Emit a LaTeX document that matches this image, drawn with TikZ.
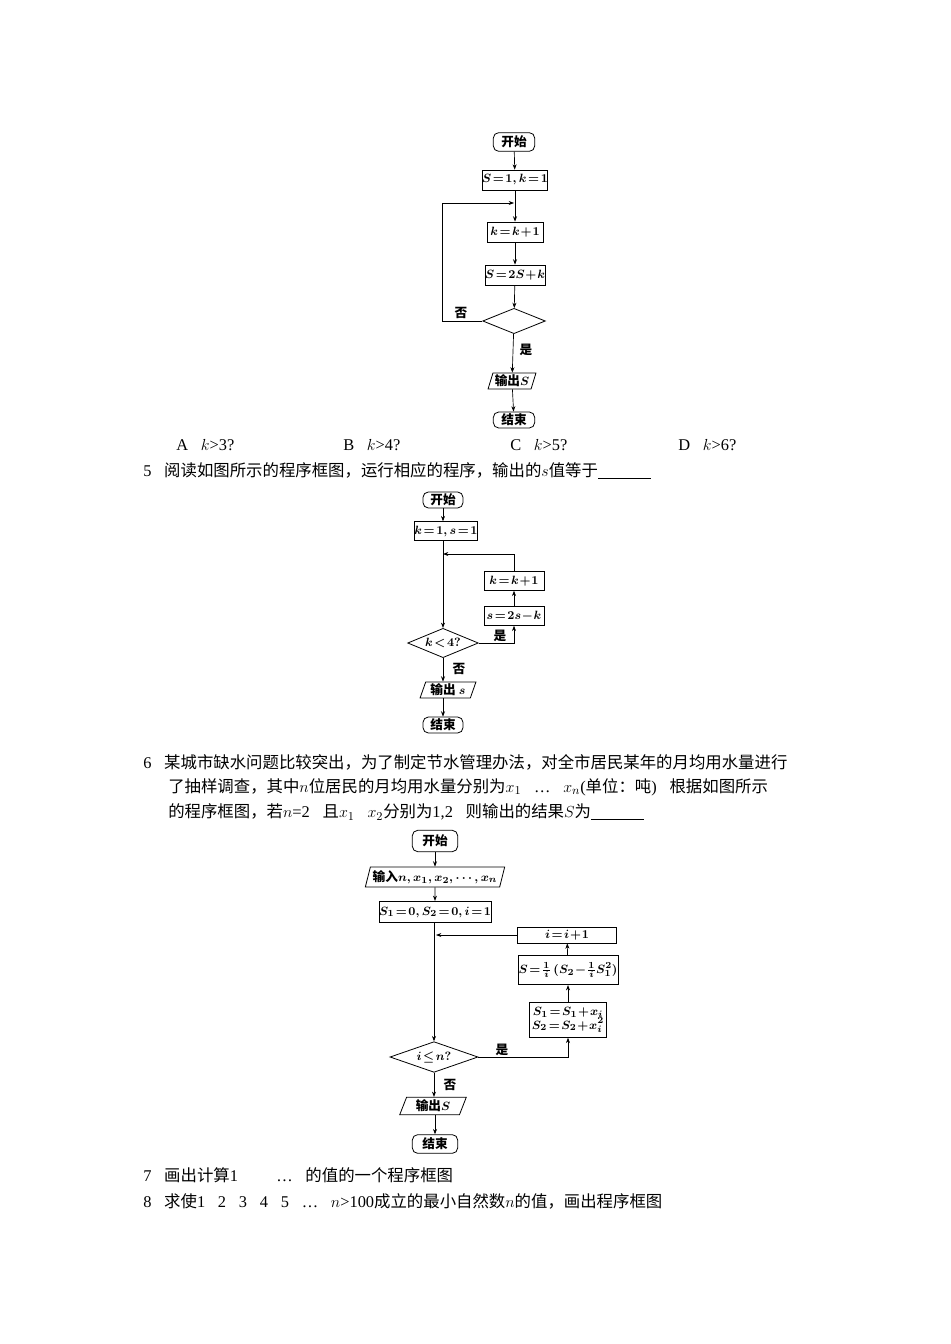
\documentclass[tikz,border=0pt]{standalone}
\usepackage{fontspec}
\setmainfont{Liberation Serif}
\newfontfamily\cjk{Noto Sans CJK SC}
\usetikzlibrary{shapes.geometric,arrows.meta}
\tikzset{
  fc/.style={draw,line width=0.6pt,inner sep=0pt,font=\fontsize{9.5pt}{11pt}\selectfont\bfseries\boldmath},
  term/.style={fc,rounded corners=4pt},
  proc/.style={fc},
  io/.style={fc,trapezium,trapezium left angle=70,trapezium right angle=110,trapezium stretches=true},
  dec/.style={fc,diamond,aspect=2.4},
  arr/.style={line width=0.5pt,-{Stealth[length=4pt,width=3pt]}},
  lab/.style={font=\fontsize{9.5pt}{11pt}\selectfont\cjk\bfseries},
  txt/.style={anchor=west,inner sep=0pt,font=\fontsize{12.3pt}{14pt}\selectfont}
}
\begin{document}
\begin{tikzpicture}[x=0.75pt,y=-0.75pt]
\useasboundingbox[fill=white] (0,0) rectangle (950,1344);
% ---------- chart 1
\node[term,minimum width=31pt,minimum height=14pt] (s1) at (514,142) {\cjk 开始};
\node[proc,minimum width=42pt,minimum height=15pt] (i1) at (515,180) {$S\!=\!1,k\!=\!1$};
\coordinate (j1) at (514,203);
\coordinate (L1) at (442,203);
\node[proc,minimum width=42pt,minimum height=15pt] (a1) at (515,232) {$k\!=\!k\!+\!1$};
\node[proc,minimum width=42pt,minimum height=15pt] (b1) at (515,275) {$S\!=\!2S\!+\!k$};
\node[dec,minimum width=47pt,minimum height=19pt] (d1) at (514,321) {};
\node[io,minimum width=36pt,minimum height=12pt] (o1) at (512,381) {{\cjk 输出}$S$};
\node[term,minimum width=31pt,minimum height=12pt] (e1) at (514,420) {\cjk 结束};
\draw[arr] (s1) -- (i1);
\draw[arr] (i1) -- (a1);
\draw[arr] (a1) -- (b1);
\draw[arr] (b1) -- (d1);
\draw[arr] (d1.west) -| (L1) -- (j1);
\draw[arr] (d1) -- (o1);
\draw[arr] (o1) -- (e1);
\node[lab] (n1) at (461,313) {否};
\node[lab] (y1) at (526,350) {是};
% ---------- text
\node[txt] (tA) at (176,445) {A．$k$>3?};
\node[txt] (tB) at (343,445) {B．$k$>4?};
\node[txt] (tC) at (510,445) {C．$k$>5?};
\node[txt] (tD) at (678,445) {D．$k$>6?};
\node[txt] (t5) at (143,471) {5．{\cjk 阅读如图所示的程序框图，运行相应的程序，输出的}$s${\cjk 值等于}\underline{\hspace{40pt}}．};
% ---------- chart 2
\node[term,minimum width=30pt,minimum height=12pt] (s2) at (443,500) {\cjk 开始};
\node[proc,minimum width=45pt,minimum height=14pt] (i2) at (446,531) {$k\!=\!1,s\!=\!1$};
\coordinate (j2) at (443,554);
\node[proc,minimum width=45pt,minimum height=14pt] (k2) at (514,581) {$k\!=\!k\!+\!1$};
\node[proc,minimum width=45pt,minimum height=14pt] (p2) at (514,616) {$s\!=\!2s\!-\!k$};
\node[dec,minimum width=53pt,minimum height=22pt] (d2) at (443,643) {$k\!<\!4?$};
\node[io,minimum width=42pt,minimum height=12pt] (o2) at (448,690) {{\cjk 输出} $s$};
\node[term,minimum width=30pt,minimum height=12pt] (e2) at (443,725) {\cjk 结束};
\draw[arr] (s2) -- (s2 |- i2.north);
\draw[arr] (i2.south -| d2) -- (d2);
\draw[arr] (d2.east) -| (p2.south);
\draw[arr] (p2) -- (k2);
\draw[arr] (k2.north) |- (j2);
\draw[arr] (d2.south) -- (d2.south |- o2.north);
\draw[arr] (o2.south -| e2) -- (e2);
\node[lab] (y2) at (500,636) {是};
\node[lab] (n2) at (459,669) {否};
% ---------- text 6
\node[txt] (t6a) at (143,762) {6．{\cjk 某城市缺水问题比较突出，为了制定节水管理办法，对全市居民某年的月均用水量进行}};
\node[txt] (t6b) at (168,787) {{\cjk 了抽样调查，其中}$n${\cjk 位居民的月均用水量分别为}$x_1$，…，$x_n$({\cjk 单位：吨})．{\cjk 根据如图所示}};
\node[txt] (t6c) at (168,812) {{\cjk 的程序框图，若}$n$=2，{\cjk 且}$x_1$，$x_2${\cjk 分别为}1,2，{\cjk 则输出的结果}$S${\cjk 为}\underline{\hspace{40pt}}．};
% ---------- chart 3
\node[term,minimum width=34pt,minimum height=16pt] (s3) at (435,841) {\cjk 开始};
\node[io,minimum width=105pt,minimum height=15pt] (in3) at (435,877) {{\cjk 输入}$n,x_1,x_2,\cdots,x_n$};
\node[proc,minimum width=75pt,minimum height=16pt] (i3) at (435,912) {$S_1\!=\!0,S_2\!=\!0,i\!=\!1$};
\coordinate (j3) at (436,935);
\node[proc,minimum width=74pt,minimum height=12pt] (k3) at (567,935) {$i\!=\!i\!+\!1$};
\node[proc,minimum width=75pt,minimum height=22pt] (q3) at (568,970) {$S\!=\!\frac{1}{i}\,(S_2\!-\!\frac{1}{i}S_1^2)$};
\node[proc,minimum width=58pt,minimum height=26pt,align=center] (p3) at (568,1020) {$S_1\!=\!S_1\!+\!x_i$\\[-1pt]$S_2\!=\!S_2\!+\!x_i^2$};
\node[dec,minimum width=66pt,minimum height=23pt] (d3) at (434,1057) {$i\!\leq\! n?$};
\node[io,minimum width=50pt,minimum height=13pt] (o3) at (433,1106) {{\cjk 输出}$S$};
\node[term,minimum width=34pt,minimum height=14pt] (e3) at (435,1144) {\cjk 结束};
\draw[arr] (s3) -- (s3 |- in3.north);
\draw[arr] (in3) -- (in3 |- i3.north);
\draw[arr] (i3.south -| d3) -- (d3);
\draw[arr] (d3.east) -| (p3.south);
\draw[arr] (p3) -- (q3);
\draw[arr] (q3) -- (k3);
\draw[arr] (k3.west) -- (j3);
\draw[arr] (d3.south) -- (d3.south |- o3.north);
\draw[arr] (o3.south -| e3) -- (e3);
\node[lab] (y3) at (502,1050) {是};
\node[lab] (n3) at (450,1085) {否};
% ---------- text 7,8
\node[txt] (t7) at (143,1175) {7．{\cjk 画出计算}1＋＋＋…＋{\cjk 的值的一个程序框图}．};
\node[txt] (t8) at (143,1201) {8．{\cjk 求使}1＋2＋3＋4＋5＋…＋$n$>100{\cjk 成立的最小自然数}$n${\cjk 的值，画出程序框图}．};
\end{tikzpicture}
\end{document}
